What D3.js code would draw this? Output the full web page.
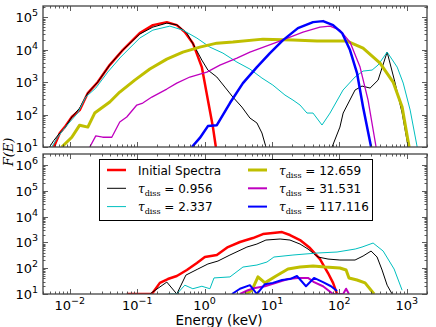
<!DOCTYPE html>
<html>
<head>
<meta charset="UTF-8">
<title>Spectra</title>
<script src="https://d3js.org/d3.v7.min.js"></script>
<style>
body { margin: 0; background: #fff; }
text { font-family: "DejaVu Sans", sans-serif; fill: #000; }
</style>
</head>
<body>
<svg id="chart" width="436" height="327"></svg>
<script>
// ---- data (energy in keV, F(E)) ----
// top panel
var redTopE = [0.0058,0.0071,0.0084,0.0107,0.014,0.0185,0.026,0.039,0.061,0.109,0.171,0.275,0.387,0.509,0.67,0.91,1.12,1.33,1.47];
var redTopF = [10,27,41,84,137,459,1000,3340,9650,32200,56700,70100,56700,34500,15800,2890,279,41,10];
var blackTopE = [0.005,0.0058,0.0071,0.0084,0.0107,0.014,0.0185,0.026,0.039,0.061,0.109,0.171,0.275,0.387,0.546,0.718,0.91,1.12,1.52,2.0,2.63,3.58,4.71,5.98,7.1,8.14,20,78,102,114,171,217,286,376,512,673,855,1050];
var blackTopF = [10,16,27,38,84,158,459,1000,3340,9650,30000,49200,65300,58000,32200,11900,4750,2340,1430,702,345,170,78,55,27,10,null,10,41,111,568,753,653,1150,8380,931,111,10];
var cyanTopE = [0.0054,0.0066,0.0079,0.01,0.0131,0.0172,0.0243,0.0366,0.057,0.109,0.171,0.305,0.476,0.769,1.2,1.87,3.02,4.71,7.1,10.3,15.6,20.5,26.1,33.1,40.7,55.3,72.8,113.5,171,225,306,376,512,722,887,1125,1430];
var cyanTopF = [10,20,33,59,111,345,653,2030,5880,22600,39800,52800,39800,22600,11900,7800,4120,2510,1330,809,398,279,196,111,111,47.5,111,568,1430,2180,2340,3340,8380,2890,931,137,10];
var yellowTopE = [0.0076,0.0107,0.014,0.0185,0.0234,0.0392,0.0551,0.092,0.154,0.275,0.476,0.851,1.52,2.63,7.35,20.5,46.6,130,225,402,628,855,1086];
var yellowTopF = [10,20,47,41,111,243,492,1150,2510,5100,8380,11900,15800,17000,21000,19600,18300,18300,11100,3850,1000,170,10];
var magentaTopE = [0.0198,0.0243,0.0308,0.042,0.0551,0.07,0.0987,0.121,0.165,0.275,0.387,0.605,1.08,1.69,3.02,4.71,11.9,28.9,51.6,72.8,102,144,203,267,351];
var magentaTopF = [10,22,20,20,59,84,196,226,345,609,931,1430,2030,3340,5470,8380,17000,34500,49200,52800,39800,17000,2890,279,10];
var blueTopE = [0.648,0.851,1.12,1.52,2.38,3.71,5.98,9.34,14.6,24.3,40.7,57.3,80.7,110,144,183,225,296];
var blueTopF = [10,19,44,47,226,931,2890,7800,19600,45900,70100,75300,56700,32200,9650,1890,170,10];

// bottom panel
var redBotE = [0.07,0.165,0.217,0.285,0.387,0.546,0.769,1.01,1.52,2.22,3.35,5.22,7.35,10.3,14.1,18.5,26.1,36.7,51.6,67.9,80.7,92.5];
var redBotF = [10,10,27,38,50,85,159,272,325,663,1040,1480,2120,2310,2530,1940,1240,607,227,65,27,10];
var blackBotE = [0.154,0.275,0.387,0.528,0.795,1.12,1.58,2.38,4.25,5.98,8.14,13.2,18.5,26.1,34.3,48.3,67.9,102,171,225,296,363,431,512,607];
var blackBotF = [10,29,10,54,93,146,190,325,663,867,1240,1360,1240,867,555,272,227,208,208,297,464,272,85,22,10];
var cyanBotE = [0.285,0.387,0.509,0.67,0.912,1.2,1.38,2.38,3.71,5.98,8.43,10.7,20.5,46.6,92.5,172,217,317,447,650,855];
var cyanBotF = [10,10,22,16,20,16,42,46,111,133,174,272,325,388,425,555,663,948,464,93,14];
var yellowBotE = [4.11,5.05,6.2,7.87,11.5,17.3,26.1,40.7,61.3,102,126,139,183,241,328];
var yellowBotF = [10,14,46,27,50,93,111,122,111,102,85,42,35,27,10];
var magentaBotE = [3.35,4.4,5.59,7.87,11.5,17.3,24.3,34.3,42.1,57.3,80.6,114,126,139];
var magentaBotF = [10,14,17,20,27,38,42,42,29,20,10,10,16,10];
var blueBotE = [2.55,3.35,4.71,5.98,7.87,10.3,14.1,18.5,23.5,32,42.1,57.3,75.3,92.5];
var blueBotF = [10,16,22,10,24,27,35,38,50,20,42,29,20,13];

var seriesNames = ["Initial Spectra", "0.956", "2.337", "12.659", "31.531", "117.116"];

// ---- styles ----
var colors = ["#ff0000", "#000000", "#00bfbf", "#bfbf00", "#bf00bf", "#0000ff"];
var widthsTop = [2.5, 1, 1, 3, 1.3, 2.5];
var widthsBot = [2.5, 1, 1, 3, 2, 2];

var svg = d3.select("#chart");
var left = 43, right = 427;

var x = d3.scaleLog().domain([0.004, 2000]).range([left, right]);

var panels = [
    { id: "top", top: 6, bottom: 147, ymax: 2.2e5, widths: widthsTop,
      E: [redTopE, blackTopE, cyanTopE, yellowTopE, magentaTopE, blueTopE],
      F: [redTopF, blackTopF, cyanTopF, yellowTopF, magentaTopF, blueTopF], xlabels: false },
    { id: "bot", top: 154, bottom: 294, ymax: 2.7e6, widths: widthsBot,
      E: [redBotE, blackBotE, cyanBotE, yellowBotE, magentaBotE, blueBotE],
      F: [redBotF, blackBotF, cyanBotF, yellowBotF, magentaBotF, blueBotF], xlabels: true }
];

function logTicks(d0, d1) {
    var out = [];
    for (var k = Math.floor(Math.log10(d0)); k <= Math.ceil(Math.log10(d1)); k++) {
        for (var j = 1; j <= 9; j++) {
            var v = j * Math.pow(10, k);
            if (v >= d0 * 0.9999 && v <= d1 * 1.0001) out.push({ v: v, major: j === 1, exp: k });
        }
    }
    return out;
}

function powLabel(sel, exp) {
    sel.append("tspan").text("10");
    sel.append("tspan").attr("dy", -6).attr("font-size", 9.5)
        .text(exp < 0 ? "\u2212" + (-exp) : exp);
}

var xt = logTicks(0.004, 2000);

panels.forEach(function (p) {
    var y = d3.scaleLog().domain([10, p.ymax]).range([p.bottom, p.top]);

    svg.append("clipPath").attr("id", "clip-" + p.id)
        .append("rect").attr("x", left).attr("y", p.top)
        .attr("width", right - left).attr("height", p.bottom - p.top);

    var g = svg.append("g").attr("clip-path", "url(#clip-" + p.id + ")");

    var line = d3.line()
        .defined(function (d) { return d[1] != null; })
        .x(function (d) { return x(d[0]); })
        .y(function (d) { return y(d[1]); });

    p.E.forEach(function (es, i) {
        var pts = es.map(function (e, k) { return [e, p.F[i][k]]; });
        g.append("path")
            .attr("d", line(pts))
            .attr("fill", "none")
            .attr("stroke", colors[i])
            .attr("stroke-width", p.widths[i])
            .attr("stroke-linejoin", "round");
    });

    // ticks on all four sides, pointing inward
    var tk = svg.append("g").attr("stroke", "#333").attr("stroke-width", 0.8);
    xt.forEach(function (t) {
        var len = t.major ? 5 : 2.5;
        var xx = Math.round(x(t.v)) + 0.5;
        tk.append("line").attr("x1", xx).attr("x2", xx).attr("y1", p.bottom).attr("y2", p.bottom - len);
        tk.append("line").attr("x1", xx).attr("x2", xx).attr("y1", p.top).attr("y2", p.top + len);
    });
    var yt = logTicks(10, p.ymax);
    yt.forEach(function (t) {
        var len = t.major ? 5 : 2.5;
        var yy = Math.round(y(t.v)) + 0.5;
        tk.append("line").attr("x1", left).attr("x2", left + len).attr("y1", yy).attr("y2", yy);
        tk.append("line").attr("x1", right).attr("x2", right - len).attr("y1", yy).attr("y2", yy);
    });

    // frame
    svg.append("rect").attr("x", left).attr("y", p.top)
        .attr("width", right - left).attr("height", p.bottom - p.top)
        .attr("fill", "none").attr("stroke", "#444").attr("stroke-width", 1.3);

    // y tick labels
    yt.filter(function (t) { return t.major; }).forEach(function (t) {
        var tx = svg.append("text").attr("x", 38).attr("y", y(t.v) + 5)
            .attr("text-anchor", "end").attr("font-size", 13);
        powLabel(tx, t.exp);
    });

    if (p.xlabels) {
        xt.filter(function (t) { return t.major; }).forEach(function (t) {
            var tx = svg.append("text").attr("x", x(t.v)).attr("y", 309.5)
                .attr("text-anchor", "middle").attr("font-size", 13);
            powLabel(tx, t.exp);
        });
    }
});

// axis titles
svg.append("text").attr("x", 219).attr("y", 324.5).attr("text-anchor", "middle")
    .attr("font-size", 13.5).text("Energy (keV)");

var yl = svg.append("text").attr("transform", "translate(13,152) rotate(-90)")
    .attr("text-anchor", "middle").attr("font-size", 13)
    .style("font-family", "'DejaVu Serif', serif").style("font-style", "italic");
yl.text("F(E)");

// legend
var leg = svg.append("g");
leg.append("rect").attr("x", 99.5).attr("y", 159.5).attr("width", 273).attr("height", 61)
    .attr("fill", "#fff").attr("stroke", "#000").attr("stroke-width", 1);

var legW = [2.5, 1, 1, 3, 2, 2];
seriesNames.forEach(function (name, i) {
    var col = Math.floor(i / 3), row = i % 3;
    var lx = col === 0 ? 107 : 248;
    var tx0 = col === 0 ? 138 : 279;
    var ly = 170 + row * 18.3;
    leg.append("line").attr("x1", lx).attr("x2", lx + 19).attr("y1", ly).attr("y2", ly)
        .attr("stroke", colors[i]).attr("stroke-width", legW[i]);
    var t = leg.append("text").attr("x", tx0).attr("y", ly + 4.5).attr("font-size", 12);
    if (i === 0) {
        t.text(name);
    } else {
        t.append("tspan").style("font-family", "'DejaVu Serif', serif")
            .style("font-style", "italic").text("\u03c4");
        t.append("tspan").attr("dy", 3).attr("font-size", 8)
            .style("font-family", "'DejaVu Serif', serif").text("diss");
        t.append("tspan").attr("dy", -3).text(" = " + name);
    }
});
</script>
</body>
</html>
